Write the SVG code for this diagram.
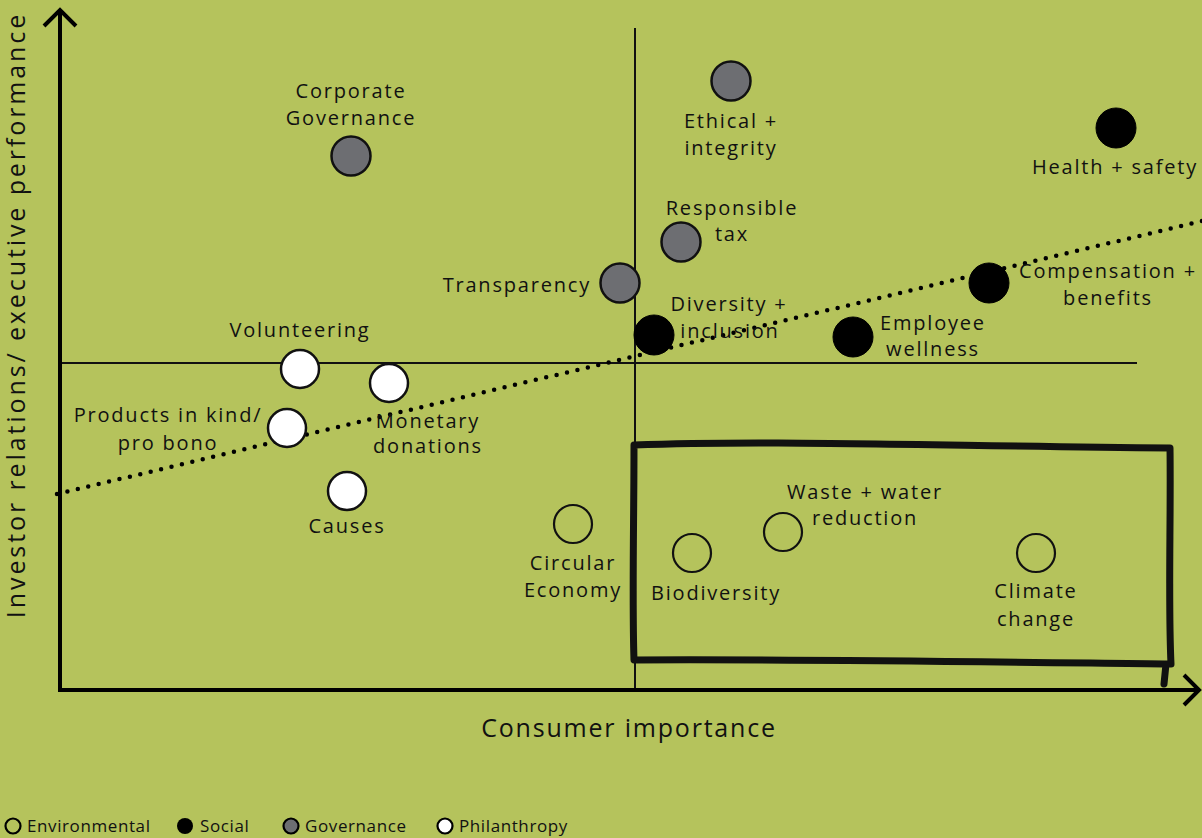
<svg xmlns="http://www.w3.org/2000/svg" width="1202" height="838" viewBox="0 0 1202 838">
<style>
text{font-family:"Open Sans","DejaVu Sans",sans-serif;fill:#111;}
.lb{font-size:20px;letter-spacing:1.8px;}
.mid{text-anchor:middle;}
.ax{font-size:25px;letter-spacing:1.8px;}
.lg{font-size:17px;letter-spacing:0.6px;}
.gov{fill:#6d6e72;stroke:#111;stroke-width:2.5;}
.soc{fill:#000;stroke:#000;stroke-width:1;}
.phi{fill:#fff;stroke:#111;stroke-width:2.5;}
.env{fill:none;stroke:#111;stroke-width:2.2;}
.axis{stroke:#000;stroke-width:4;fill:none;}
.thin{stroke:#111;stroke-width:2;fill:none;}
</style>
<rect width="1202" height="838" fill="#b5c35c"/>
<g id="connectors">
<line class="thin" x1="635" y1="28" x2="635" y2="690"/>
<line class="thin" x1="60" y1="363" x2="1137" y2="363"/>
<line x1="57" y1="494" x2="1202" y2="221" stroke="#000" stroke-width="4.5" stroke-linecap="round" stroke-dasharray="0 10.7"/>
<path class="axis" d="M60 690 V10 M44 26 L60 10 L76 26"/>
<path class="axis" d="M58 690 H1198 M1184 675 L1199 690 L1184 705"/>
<path d="M634 445 C760 440 900 445 1170 448 C1171 520 1168 600 1171 664 C1000 662 800 659 634 660 C632 600 634 520 634 445 Z M1166 664 L1164 684" fill="none" stroke="#111" stroke-width="7" stroke-linejoin="round" stroke-linecap="round"/>
</g>
<g id="corporate-governance"><circle class="gov" cx="351" cy="156" r="19.5"/><text class="lb mid" x="351" y="98">Corporate</text><text class="lb mid" x="351" y="125">Governance</text></g>
<g id="ethical-integrity"><circle class="gov" cx="731" cy="81" r="19.5"/><text class="lb mid" x="731" y="128">Ethical +</text><text class="lb mid" x="731" y="155">integrity</text></g>
<g id="health-safety"><circle class="soc" cx="1116" cy="128" r="20"/><text class="lb mid" x="1115" y="174">Health + safety</text></g>
<g id="responsible-tax"><circle class="gov" cx="681" cy="242" r="19.5"/><text class="lb mid" x="732" y="215">Responsible</text><text class="lb mid" x="732" y="241">tax</text></g>
<g id="transparency"><circle class="gov" cx="620" cy="283" r="19.5"/><text class="lb" x="591" y="292" text-anchor="end">Transparency</text></g>
<g id="diversity-inclusion"><circle class="soc" cx="654" cy="335" r="20"/><text class="lb mid" x="729" y="311">Diversity +</text><text class="lb mid" x="730" y="338">inclusion</text></g>
<g id="compensation-benefits"><circle class="soc" cx="989" cy="283" r="20"/><text class="lb mid" x="1108" y="278">Compensation +</text><text class="lb mid" x="1108" y="305">benefits</text></g>
<g id="employee-wellness"><circle class="soc" cx="853" cy="337" r="20"/><text class="lb mid" x="933" y="330">Employee</text><text class="lb mid" x="933" y="356">wellness</text></g>
<g id="volunteering"><circle class="phi" cx="300" cy="369" r="19"/><text class="lb mid" x="300" y="337">Volunteering</text></g>
<g id="monetary-donations"><circle class="phi" cx="389" cy="383" r="19"/><text class="lb mid" x="428" y="428">Monetary</text><text class="lb mid" x="428" y="453">donations</text></g>
<g id="products-in-kind"><circle class="phi" cx="287" cy="428" r="19"/><text class="lb mid" x="168" y="422">Products in kind/</text><text class="lb mid" x="168" y="450">pro bono</text></g>
<g id="causes"><circle class="phi" cx="347" cy="491" r="19"/><text class="lb mid" x="347" y="533">Causes</text></g>
<g id="circular-economy"><circle class="env" cx="573" cy="524" r="19"/><text class="lb mid" x="573" y="570">Circular</text><text class="lb mid" x="573" y="597">Economy</text></g>
<g id="biodiversity"><circle class="env" cx="692" cy="553" r="19"/><text class="lb mid" x="716" y="600">Biodiversity</text></g>
<g id="waste-water"><circle class="env" cx="783" cy="532" r="19"/><text class="lb mid" x="865" y="499">Waste + water</text><text class="lb mid" x="865" y="525">reduction</text></g>
<g id="climate-change"><circle class="env" cx="1036" cy="553" r="19"/><text class="lb mid" x="1036" y="598">Climate</text><text class="lb mid" x="1036" y="626">change</text></g>
<g id="axis-labels">
<text class="ax mid" x="629" y="737">Consumer importance</text>
<text class="ax mid" transform="translate(25 315) rotate(-90)" style="letter-spacing:2.9px">Investor relations/ executive performance</text>
</g>
<g id="legend">
<circle cx="13" cy="826" r="7.5" fill="none" stroke="#000" stroke-width="2.2"/><text class="lg" x="27" y="832">Environmental</text>
<circle cx="185" cy="826" r="8" fill="#000"/><text class="lg" x="200" y="832">Social</text>
<circle cx="291" cy="826" r="7.5" fill="#6d6e72" stroke="#000" stroke-width="2.2"/><text class="lg" x="305" y="832">Governance</text>
<circle cx="445" cy="826" r="7.5" fill="#fff" stroke="#000" stroke-width="2.2"/><text class="lg" x="459" y="832">Philanthropy</text>
</g>
</svg>
